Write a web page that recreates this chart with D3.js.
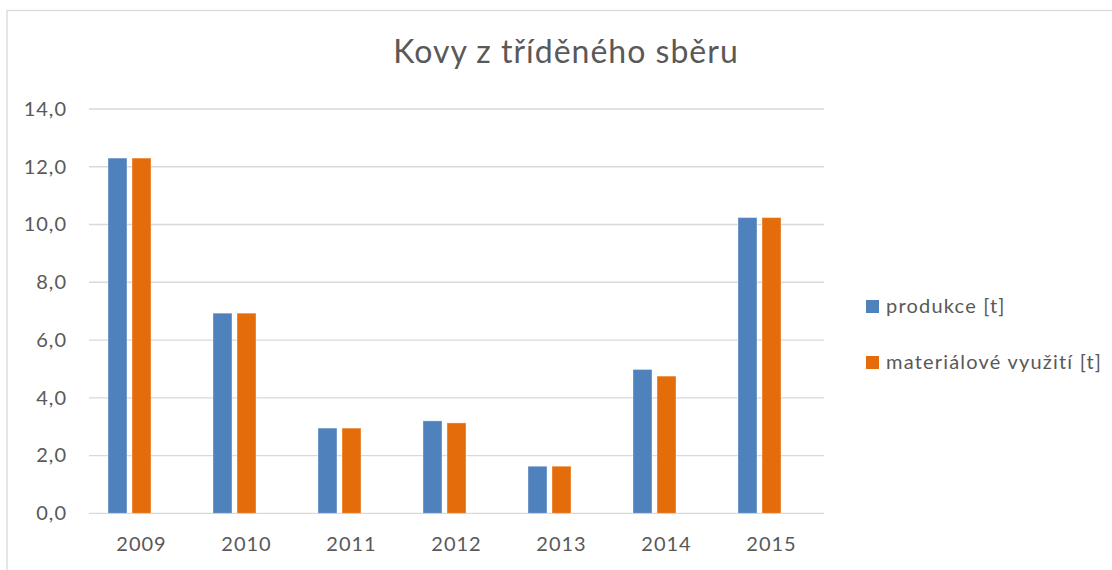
<!DOCTYPE html>
<html>
<head>
<meta charset="utf-8">
<script src="https://cdn.jsdelivr.net/npm/d3@7"></script>
<style>
  body { margin: 0; background: #fff; }
  text { font-family: Lato, "Open Sans", sans-serif; fill: #595959; }
</style>
</head>
<body>
<div id="chart"></div>
<script>
// Données
let years = ["2009", "2010", "2011", "2012", "2013", "2014", "2015"];
let seriesNames = ["produkce [t]", "materiálové využití [t]"];
let produkce = [12.3, 6.93, 2.95, 3.2, 1.63, 4.98, 10.24];
let vyuziti = [12.3, 6.93, 2.95, 3.13, 1.63, 4.75, 10.24];
let yTicks = [0, 2, 4, 6, 8, 10, 12, 14];
let colors = ["#4F81BD", "#E46C0A"];

let W = 1112, H = 570;
let margins = { left: 89, right: 288, top: 109, bottom: 56.7 };
let width = W - margins.left - margins.right;
let height = H - margins.top - margins.bottom;

let svg = d3.select("#chart").append("svg")
            .attr("width", W)
            .attr("height", H);

// cadre du graphique
svg.append("rect")
   .attr("x", 7).attr("y", 10.5)
   .attr("width", W + 20).attr("height", H + 20)
   .attr("fill", "none")
   .attr("stroke", "#D9D9D9")
   .attr("stroke-width", 1.3);

svg.append("text")
   .attr("x", 566).attr("y", 63)
   .attr("text-anchor", "middle")
   .style("font-size", "32px")
   .style("letter-spacing", "1px")
   .text("Kovy z tříděného sběru");

let g = svg.append("g")
           .attr("transform", `translate(${margins.left},${margins.top})`);

let x0 = d3.scaleBand().domain(years).range([0, width])
           .paddingInner(0.362).paddingOuter(0.181);
// 3 emplacements : le troisième reste vide (comme dans l'original)
let x1 = d3.scaleBand().domain([0, 1, 2]).range([0, x0.bandwidth()])
           .paddingInner(0.21);
let y = d3.scaleLinear().domain([0, 14]).range([height, 0]);

// grille
g.append("g")
 .selectAll("line")
 .data(yTicks)
 .enter().append("line")
 .attr("x1", 0).attr("x2", width)
 .attr("y1", d => y(d)).attr("y2", d => y(d))
 .attr("stroke", "#D9D9D9")
 .attr("stroke-width", 1.3);

// axe Y
let yAxis = g.append("g")
             .call(d3.axisLeft(y).tickValues(yTicks)
                     .tickFormat(d => d3.format(".1f")(d).replace(".", ","))
                     .tickSize(0).tickPadding(22));
yAxis.select(".domain").remove();
yAxis.selectAll("text").style("font-size", "20px")
     .style("letter-spacing", "1px").attr("fill", "#595959");

// axe X
let xAxis = g.append("g")
             .attr("transform", `translate(0, ${height})`)
             .call(d3.axisBottom(x0).tickSize(0).tickPadding(24));
xAxis.select(".domain").remove();
xAxis.selectAll("text").style("font-size", "20px")
     .style("letter-spacing", "1px").attr("fill", "#595959");

// barres
let seriesData = [produkce, vyuziti];
seriesData.forEach((vals, si) => {
  g.append("g")
   .selectAll("rect")
   .data(vals)
   .enter().append("rect")
   .attr("x", (d, i) => x0(years[i]) + x1(si))
   .attr("width", x1.bandwidth())
   .attr("y", d => y(d))
   .attr("height", d => height - y(d))
   .attr("fill", colors[si])
   .attr("stroke", "rgba(255,255,255,0.35)")
   .attr("stroke-width", 1);
});

// légende
let legend = svg.append("g")
                .selectAll("g")
                .data(seriesNames)
                .enter().append("g")
                .attr("transform", (d, i) => `translate(866, ${300 + i * 56})`);
legend.append("rect")
      .attr("width", 13).attr("height", 13)
      .attr("fill", (d, i) => colors[i]);
legend.append("text")
      .attr("x", 20).attr("y", 13)
      .style("font-size", "20px")
      .style("letter-spacing", "1.2px")
      .text(d => d);
</script>
</body>
</html>
